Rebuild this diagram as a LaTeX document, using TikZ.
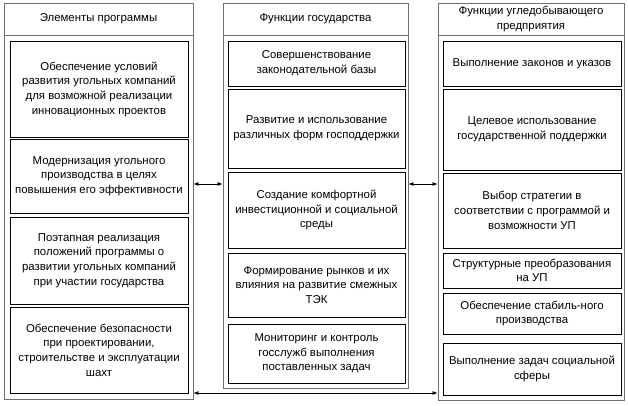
\documentclass[tikz,border=0pt]{standalone}
\usepackage{fontspec}
\setmainfont{Liberation Sans}
\usetikzlibrary{arrows.meta}
\definecolor{outerc}{HTML}{6E6E7A}
\tikzset{
  outerbox/.style={draw=outerc, line width=0.9pt, fill=none},
  innerbox/.style={draw=black, line width=0.8pt, align=center, inner sep=0pt, font=\fontsize{11.4}{14.7}\selectfont},
  headtext/.style={align=center, inner sep=0pt, font=\fontsize{11.4}{14.7}\selectfont},
  conn/.style={draw=black, line width=0.7pt, {Latex[length=5pt,width=4pt]}-{Latex[length=5pt,width=4pt]}}
}
\newcommand{\ibox}[6]{% name, xl, xr, yt, yb, text
  \node[innerbox, minimum width={#3-#2}, minimum height={#5-#4}] (#1) at ({(#2+#3)/2},{(#4+#5)/2}) {#6};}
\begin{document}
\begin{tikzpicture}[x=1pt,y=-1pt]
\useasboundingbox (0,0) rectangle (628,405);
% outer boxes
\node[outerbox, minimum width=189pt, minimum height=396pt, inner sep=0pt] (Lo) at (98.5,201) {};
\node[outerbox, minimum width=185pt, minimum height=385pt, inner sep=0pt] (Mo) at (315.5,195.5) {};
\node[outerbox, minimum width=186pt, minimum height=397pt, inner sep=0pt] (Ro) at (531,201.5) {};
\draw[draw=outerc, line width=0.9pt] (Lo.west |- 0,35) -- (Lo.east |- 0,35);
\draw[draw=outerc, line width=0.9pt] (Mo.west |- 0,35) -- (Mo.east |- 0,35);
\draw[draw=outerc, line width=0.9pt] (Ro.west |- 0,35) -- (Ro.east |- 0,35);
% headers
\node[headtext] (Lh) at (98.5,19) {Элементы программы};
\node[headtext] (Mh) at (315.5,19) {Функции государства};
\node[headtext] (Rh) at (531,19) {Функции угледобывающего\\предприятия};
% left inner
\ibox{L1}{10}{188}{41}{137}{Обеспечение условий\\развития угольных компаний\\для возможной реализации\\инновационных проектов}
\ibox{L2}{10}{188}{139}{213}{Модернизация угольного\\производства в целях\\повышения его эффективности}
\ibox{L3}{10}{188}{217}{304}{Поэтапная реализация\\положений программы о\\развитии угольных компаний\\при участии государства}
\ibox{L4}{10}{188}{307}{393}{Обеспечение безопасности\\при проектировании,\\строительстве и эксплуатации\\шахт}
% middle inner
\ibox{M1}{228}{405}{41}{86}{Совершенствование\\законодательной базы}
\ibox{M2}{228}{405}{89}{168}{Развитие и использование\\различных форм господдержки}
\ibox{M3}{228}{405}{172}{248}{Создание комфортной\\инвестиционной и социальной\\среды}
\ibox{M4}{228}{405}{253}{317}{Формирование рынков и их\\влияния на развитие смежных\\ТЭК}
\ibox{M5}{228}{405}{324}{383}{Мониторинг и контроль\\госслужб выполнения\\поставленных задач}
% right inner
\ibox{R1}{443}{621}{41}{86}{Выполнение законов и указов}
\ibox{R2}{443}{621}{89}{170}{Целевое использование\\государственной поддержки}
\ibox{R3}{443}{621}{173}{248}{Выбор стратегии в\\соответствии с программой и\\возможности УП}
\ibox{R4}{443}{621}{253}{288}{Структурные преобразования\\на УП}
\ibox{R5}{443}{621}{293}{334}{Обеспечение стабиль-ного\\производства}
\ibox{R6}{443}{621}{343}{395}{Выполнение задач социальной\\сферы}
% connectors
\coordinate (a1) at (0,184);
\draw[conn] (Lo.east |- a1) -- (Mo.west |- a1);
\draw[conn] (Mo.east |- a1) -- (Ro.west |- a1);
\coordinate (a2) at (0,393);
\draw[conn] (Lo.east |- a2) -- (Ro.west |- a2);
\end{tikzpicture}
\end{document}
